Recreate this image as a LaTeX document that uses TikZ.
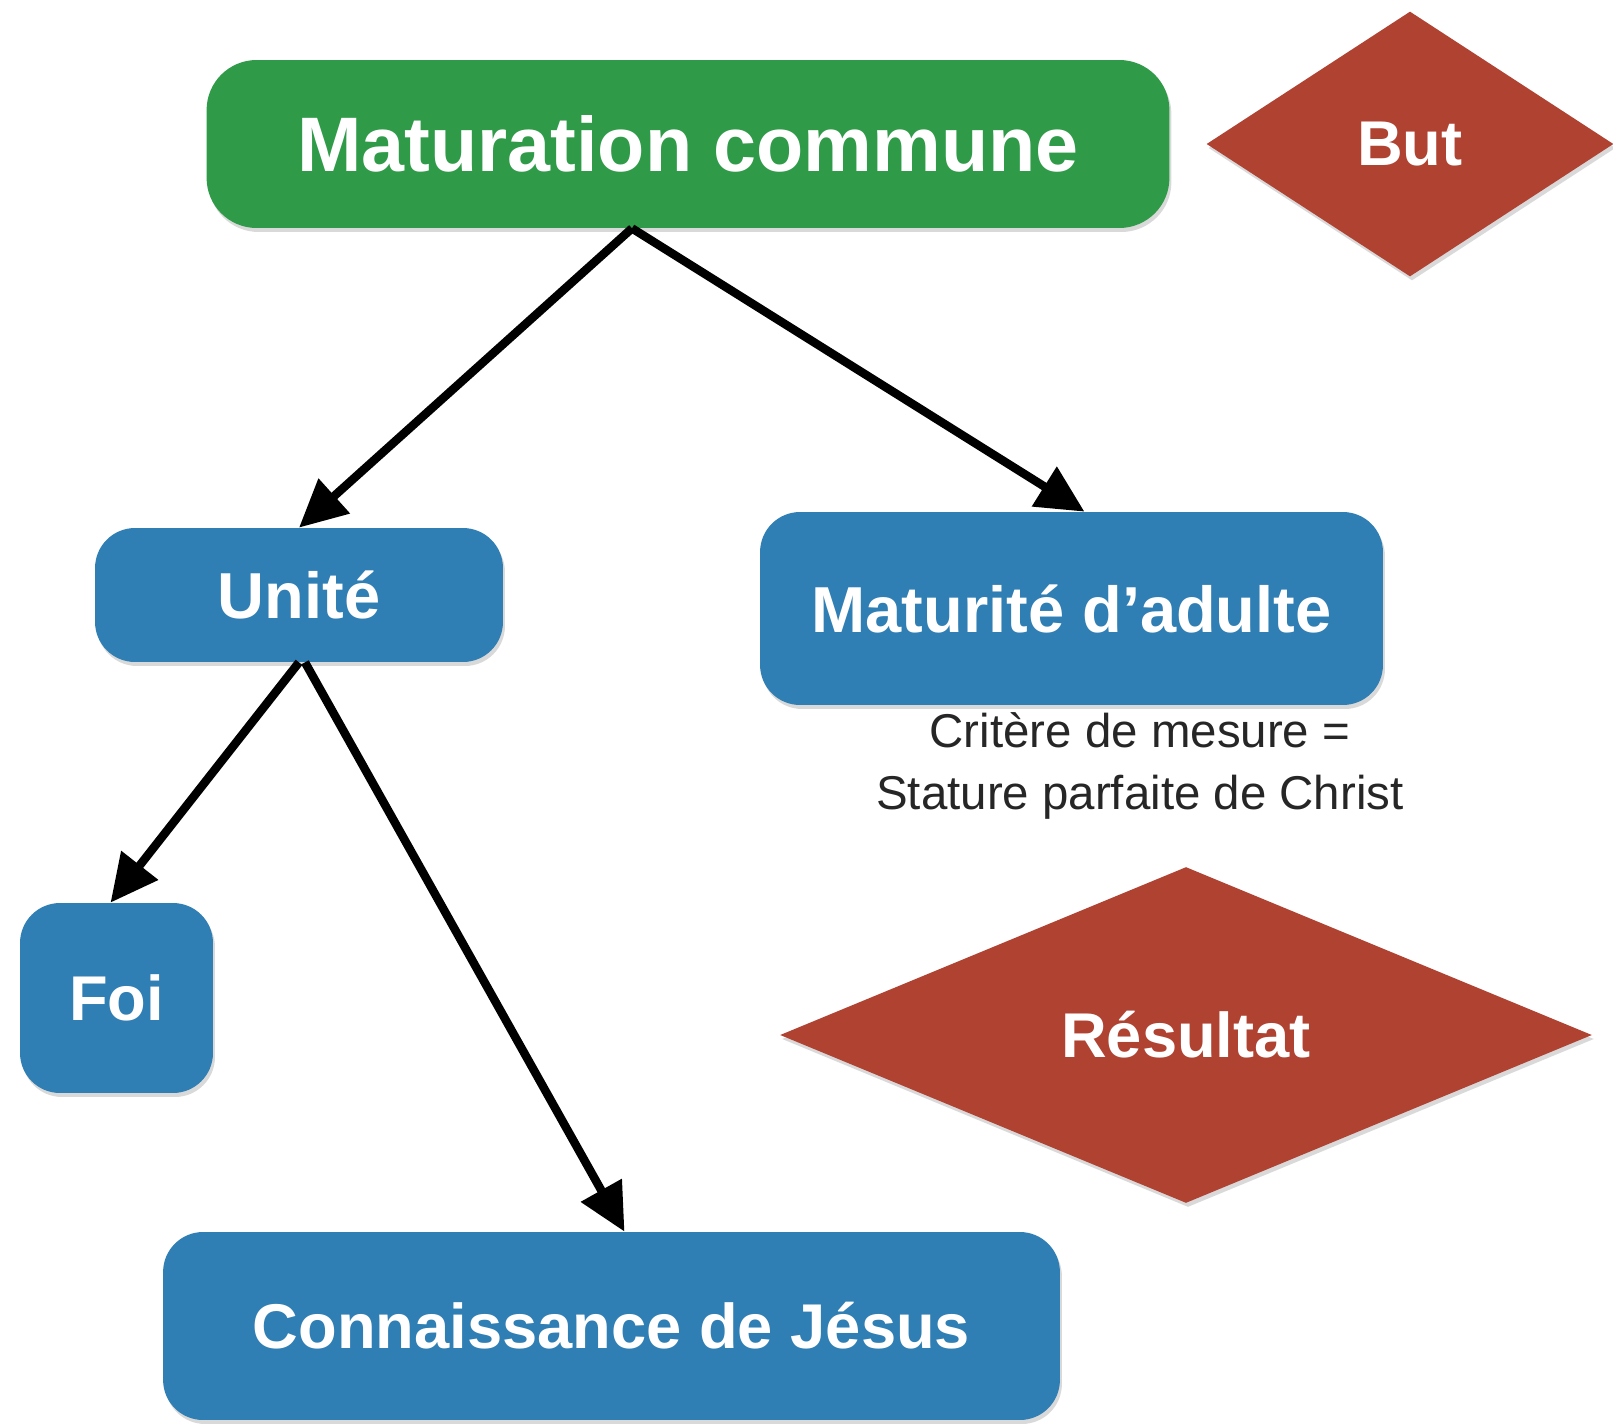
\documentclass[tikz,border=0pt]{standalone}
\usepackage{fontspec}
\setmainfont{Liberation Sans}
\usetikzlibrary{shapes.geometric,arrows.meta,calc,shadows}
\definecolor{boxgreen}{RGB}{47,155,72}
\definecolor{boxblue}{RGB}{47,126,180}
\definecolor{boxred}{RGB}{176,66,50}
\begin{document}
\begin{tikzpicture}[x=0.02cm,y=-0.02cm,
  shad/.style={drop shadow={shadow xshift=0.04cm,shadow yshift=-0.08cm,opacity=0.15,fill=black}},
  rbox/.style={rectangle,rounded corners=0.8cm,inner sep=0pt,text=white,
    font=\fontsize{36}{40}\selectfont\bfseries,shad},
  ddiam/.style={diamond,inner sep=0pt,fill=boxred,text=white,
    font=\fontsize{36}{40}\selectfont\bfseries,shad},
  conn/.style={line width=0.17cm,-{Triangle[length=0.95cm,width=0.9cm]}}]
\useasboundingbox (0,0) rectangle (1613,1426);
\node[rbox,fill=boxgreen,rounded corners=1cm,minimum width=19.26cm,minimum height=3.36cm,
  font=\fontsize{44}{50}\selectfont\bfseries] (mat) at (688,144) {Maturation commune};
\node[ddiam,minimum width=8.14cm,minimum height=5.3cm] (but) at (1410,144) {But};
\node[rbox,fill=boxblue,minimum width=8.16cm,minimum height=2.68cm,
  font=\fontsize{37}{40}\selectfont\bfseries] (unite) at (299,595) {Unité};
\node[rbox,fill=boxblue,minimum width=12.46cm,minimum height=3.86cm,
  font=\fontsize{37}{40}\selectfont\bfseries] (madu) at (1071.5,608.5) {Maturité d’adulte};
\node[rbox,fill=boxblue,minimum width=3.86cm,minimum height=3.8cm] (foi) at (116.5,998) {Foi};
\node[ddiam,minimum width=16.24cm,minimum height=6.72cm] (res) at (1186,1035) {Résultat};
\node[rbox,fill=boxblue,minimum width=17.94cm,minimum height=3.76cm] (cnx) at (611.5,1326) {Connaissance de Jésus};
\node[align=center,font=\fontsize{27}{35.7}\selectfont,text=black!85] (crit) at (1140,766)
  {Critère de mesure =\\Stature parfaite de Christ};
\draw[conn] ($(mat.south)+(-56,0)$) -- (unite.north);
\draw[conn] ($(mat.south)+(-56,0)$) -- ($(madu.north)+(13,0)$);
\draw[conn] (unite.south) -- ($(foi.north)+(-6,0)$);
\draw[conn] ($(unite.south)+(6,0)$) -- ($(cnx.north)+(13,0)$);
\end{tikzpicture}
\end{document}
